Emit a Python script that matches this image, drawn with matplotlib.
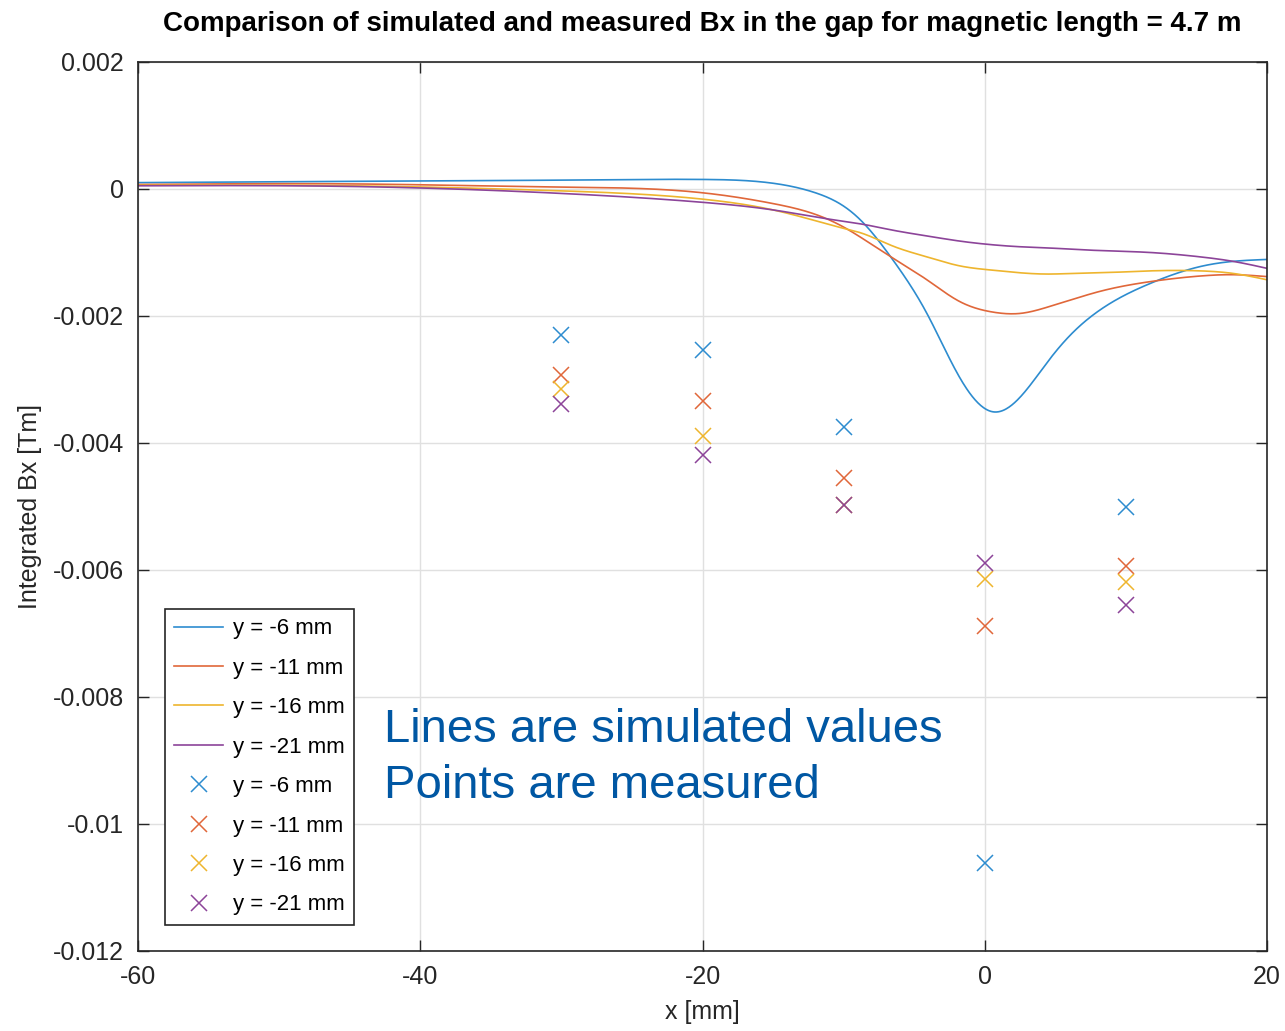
import matplotlib
matplotlib.use("Agg")
import matplotlib.pyplot as plt
import numpy as np

plt.rcParams['font.family'] = ['Liberation Sans', 'DejaVu Sans']

# Simulated integrated Bx along x for each y offset
sim_x = [-60, -45, -30, -20, -15, -12, -10, -8.8, -6.5, -4.1, -1.8, 0.6, 2.5,
         4.6, 6.2, 8.2, 11.7, 15.3, 17.6, 20]
sim_y6 = [0.00010, 0.00012, 0.00014, 0.00015, 0.00009, -0.00006, -0.00027, -0.00049,
          -0.00112, -0.00196, -0.00296, -0.00351, -0.00328, -0.00268, -0.00227, -0.00190,
          -0.00149, -0.00122, -0.00114, -0.00111]
sim_y11 = [0.00007, 0.00008, 0.00003, -0.00006, -0.00023, -0.00040, -0.00060, -0.00076,
           -0.00109, -0.00143, -0.00177, -0.00194, -0.00196, -0.00185, -0.00174, -0.00161,
           -0.00146, -0.00137, -0.00135, -0.00138]
sim_y16 = [0.00006, 0.00005, -0.00003, -0.00016, -0.00033, -0.00050, -0.00062, -0.00069,
           -0.00090, -0.00107, -0.00121, -0.00128, -0.00132, -0.00134, -0.00133, -0.00132,
           -0.00129, -0.00129, -0.00133, -0.00143]
sim_y21 = [0.00005, 0.00004, -0.00007, -0.00021, -0.00033, -0.00044, -0.00051, -0.00055,
           -0.00065, -0.00074, -0.00082, -0.00088, -0.00091, -0.00093, -0.00095, -0.00097,
           -0.00100, -0.00107, -0.00114, -0.00125]

# Measured points
meas_x = [-30, -20, -10, 0, 10]
meas_y6 = [-0.00230, -0.00254, -0.00375, -0.01061, -0.00501]
meas_y11 = [-0.00293, -0.00334, -0.00455, -0.00688, -0.00594]
meas_y16 = [-0.00315, -0.00389, -0.00498, -0.00614, -0.00619]
meas_y21 = [-0.00339, -0.00419, -0.00498, -0.00589, -0.00655]

labels = ['y = -6 mm', 'y = -11 mm', 'y = -16 mm', 'y = -21 mm']
colors = ['#2d8ccf', '#e0673a', '#eeb52e', '#8c4499']

x_ticks = [-60, -40, -20, 0, 20]
y_ticks = [0.002, 0, -0.002, -0.004, -0.006, -0.008, -0.01, -0.012]
y_tick_labels = ['0.002', '0', '-0.002', '-0.004', '-0.006', '-0.008', '-0.01', '-0.012']


def spline(xk, yk, xq):
    """Natural cubic spline through (xk, yk), evaluated at xq."""
    xk = np.asarray(xk, float)
    yk = np.asarray(yk, float)
    n = len(xk)
    h = np.diff(xk)
    A = np.zeros((n, n))
    r = np.zeros(n)
    A[0, 0] = A[-1, -1] = 1.0
    for i in range(1, n - 1):
        A[i, i - 1] = h[i - 1]
        A[i, i] = 2 * (h[i - 1] + h[i])
        A[i, i + 1] = h[i]
        r[i] = 6 * ((yk[i + 1] - yk[i]) / h[i] - (yk[i] - yk[i - 1]) / h[i - 1])
    M = np.linalg.solve(A, r)
    idx = np.clip(np.searchsorted(xk, xq) - 1, 0, n - 2)
    x0, x1 = xk[idx], xk[idx + 1]
    hh = x1 - x0
    a = (x1 - xq) / hh
    b = (xq - x0) / hh
    return (a * yk[idx] + b * yk[idx + 1]
            + ((a**3 - a) * M[idx] + (b**3 - b) * M[idx + 1]) * hh**2 / 6)


fig = plt.figure(figsize=(12.85, 10.31), dpi=100)
ax = fig.add_axes([0.1074, 0.0776, 0.8786, 0.8623])

xs = np.linspace(-60, 20, 1200)
sims = [sim_y6, sim_y11, sim_y16, sim_y21]
meas = [meas_y6, meas_y11, meas_y16, meas_y21]

line_handles = []
for ys, c, lab in zip(sims, colors, labels):
    ln, = ax.plot(xs, spline(sim_x, ys, xs), color=c, lw=1.2, label=lab)
    line_handles.append(ln)

pt_handles = []
for ys, c, lab in zip(meas, colors, labels):
    pt, = ax.plot(meas_x, ys, linestyle='none', marker='x', color=c,
                  markersize=12, markeredgewidth=1.1, label=lab)
    pt_handles.append(pt)

ax.set_xlim(-60, 20)
ax.set_ylim(-0.012, 0.002)
ax.set_xticks(x_ticks)
ax.set_xticklabels([str(v) for v in x_ticks])
ax.set_yticks(y_ticks)
ax.set_yticklabels(y_tick_labels)
ax.tick_params(direction='in', length=8, width=1, colors='#262626', labelsize=18,
               top=True, right=True, pad=10)
ax.grid(True, color='#e0e0e0', linewidth=1)
ax.set_axisbelow(True)
for s in ax.spines.values():
    s.set_color('#262626')
    s.set_linewidth(1.2)

ax.set_xlabel('x [mm]', fontsize=18, color='#262626', labelpad=8)
ax.set_ylabel('Integrated Bx [Tm]', fontsize=18, color='#262626', labelpad=8)
ax.set_title('Comparison of simulated and measured Bx in the gap for magnetic length = 4.7 m',
             fontsize=20, fontweight='bold', pad=22)

leg = ax.legend(handles=line_handles + pt_handles, loc='lower left',
                fontsize=16, frameon=True,
                fancybox=False, edgecolor='#262626', framealpha=1,
                handlelength=2.2, labelspacing=0.83, borderpad=0.42,
                handletextpad=0.45, borderaxespad=0.0)
leg.get_frame().set_linewidth(1.2)
leg.set_bbox_to_anchor((0.024, 0.0295), transform=ax.transAxes)

ax.text(0.2179, 0.2351, 'Lines are simulated values',
        transform=ax.transAxes, fontsize=34, color='#0057a3',
        va='baseline', ha='left')
ax.text(0.2179, 0.1721, 'Points are measured',
        transform=ax.transAxes, fontsize=34, color='#0057a3',
        va='baseline', ha='left')

fig.savefig('out.png', dpi=100)
